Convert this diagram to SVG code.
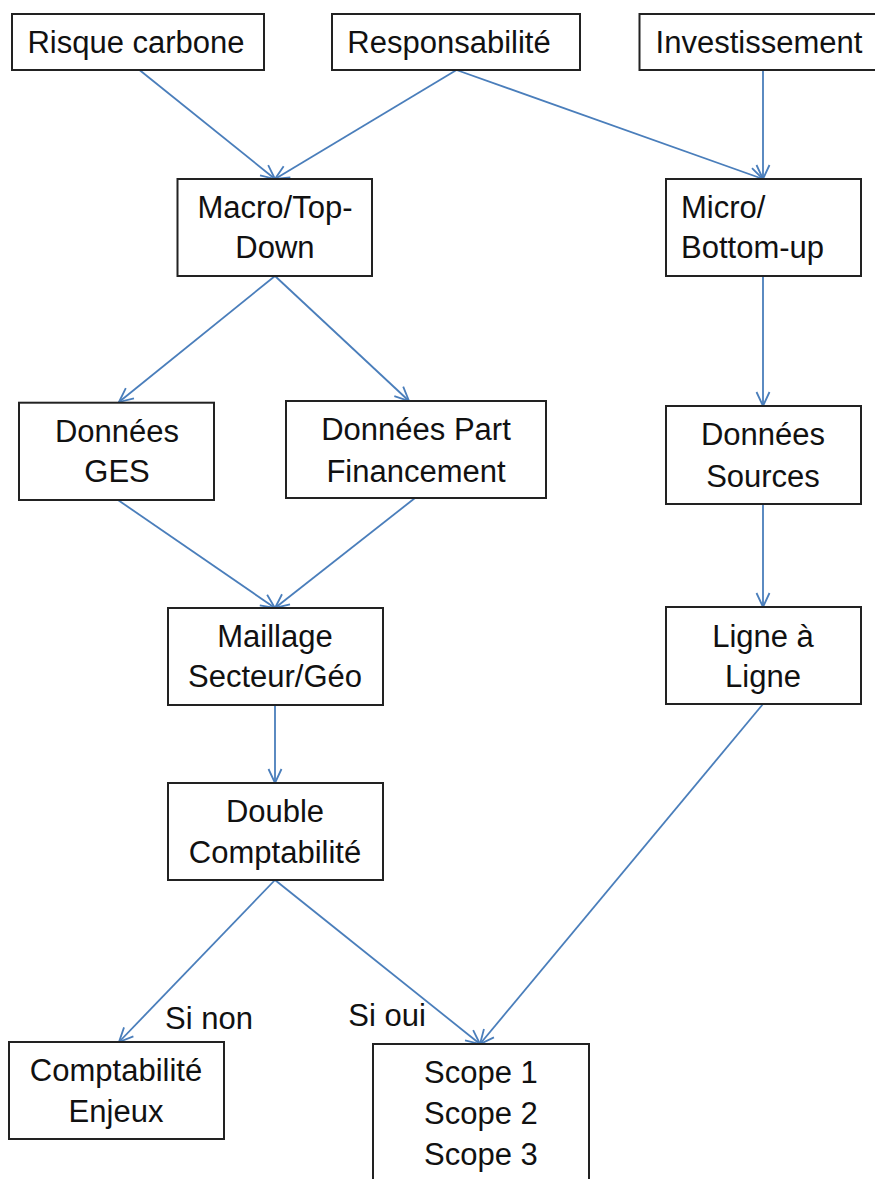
<svg xmlns="http://www.w3.org/2000/svg" width="875" height="1179" viewBox="0 0 875 1179">
<style>
.box{fill:#fff;stroke:#222;stroke-width:2}
.t{font-family:"Liberation Sans",Arial,sans-serif;font-size:31px;fill:#111;text-anchor:middle}
.l{text-anchor:start}
.c{stroke:#4a7ebb;stroke-width:1.8;fill:none;marker-end:url(#ah)}
</style>
<defs>
<marker id="ah" markerUnits="userSpaceOnUse" markerWidth="18" markerHeight="18" viewBox="0 0 18 18" refX="17" refY="9" orient="auto">
<path d="M3,2.5 L17,9 L3,15.5" fill="none" stroke="#4a7ebb" stroke-width="1.8"/>
</marker>
</defs>
<rect width="875" height="1179" fill="#fff"/>
<g id="connectors">
<line class="c" x1="139.5" y1="70" x2="275" y2="179"/>
<line class="c" x1="456.5" y1="70" x2="275" y2="179"/>
<line class="c" x1="456.5" y1="70" x2="763" y2="179"/>
<line class="c" x1="763" y1="70" x2="763" y2="179"/>
<line class="c" x1="275" y1="276" x2="119" y2="402"/>
<line class="c" x1="275" y1="276" x2="409" y2="401"/>
<line class="c" x1="763" y1="276" x2="763" y2="406"/>
<line class="c" x1="118" y1="500" x2="275" y2="608"/>
<line class="c" x1="415" y1="498" x2="275" y2="608"/>
<line class="c" x1="763" y1="504" x2="763" y2="607"/>
<line class="c" x1="275" y1="705" x2="275" y2="783"/>
<line class="c" x1="275" y1="880" x2="119" y2="1042"/>
<line class="c" x1="275" y1="880" x2="480" y2="1044"/>
<line class="c" x1="763" y1="704" x2="480" y2="1044"/>
<text class="t" x="209" y="1029">Si non</text>
<text class="t" x="387" y="1026">Si oui</text>
</g>
<g id="risque">
<rect class="box" x="12" y="14" width="252" height="56"/>
<text class="t" x="136" y="53">Risque carbone</text>
</g>
<g id="responsabilite">
<rect class="box" x="332" y="14" width="248" height="56"/>
<text class="t" x="449" y="53">Responsabilité</text>
</g>
<g id="investissement">
<rect class="box" x="639.5" y="14" width="250" height="56"/>
<text class="t" x="759" y="53">Investissement</text>
</g>
<g id="macro">
<rect class="box" x="177.5" y="179" width="194.5" height="97"/>
<text class="t" x="275" y="218">Macro/Top-</text>
<text class="t" x="275" y="258">Down</text>
</g>
<g id="micro">
<rect class="box" x="666" y="179" width="195" height="97"/>
<text class="t l" x="681" y="218">Micro/</text>
<text class="t l" x="681" y="258">Bottom-up</text>
</g>
<g id="ges">
<rect class="box" x="19" y="402.7" width="195" height="97.3"/>
<text class="t" x="117" y="442">Données</text>
<text class="t" x="117" y="482">GES</text>
</g>
<g id="partfin">
<rect class="box" x="286" y="401" width="260" height="97"/>
<text class="t" x="416" y="440">Données Part</text>
<text class="t" x="416" y="482">Financement</text>
</g>
<g id="sources">
<rect class="box" x="666" y="406" width="195" height="98"/>
<text class="t" x="763" y="445">Données</text>
<text class="t" x="763" y="487">Sources</text>
</g>
<g id="maillage">
<rect class="box" x="168" y="608" width="215" height="97"/>
<text class="t" x="275" y="647">Maillage</text>
<text class="t" x="275" y="687">Secteur/Géo</text>
</g>
<g id="ligne">
<rect class="box" x="666" y="607" width="195" height="97"/>
<text class="t" x="763" y="647">Ligne à</text>
<text class="t" x="763" y="687">Ligne</text>
</g>
<g id="double">
<rect class="box" x="168" y="783" width="215" height="97"/>
<text class="t" x="275" y="822">Double</text>
<text class="t" x="275" y="863">Comptabilité</text>
</g>
<g id="enjeux">
<rect class="box" x="9" y="1042" width="215" height="97"/>
<text class="t" x="116" y="1081">Comptabilité</text>
<text class="t" x="116" y="1122">Enjeux</text>
</g>
<g id="scope">
<rect class="box" x="373" y="1044" width="216" height="150"/>
<text class="t" x="481" y="1083">Scope 1</text>
<text class="t" x="481" y="1124">Scope 2</text>
<text class="t" x="481" y="1165">Scope 3</text>
</g>
</svg>
